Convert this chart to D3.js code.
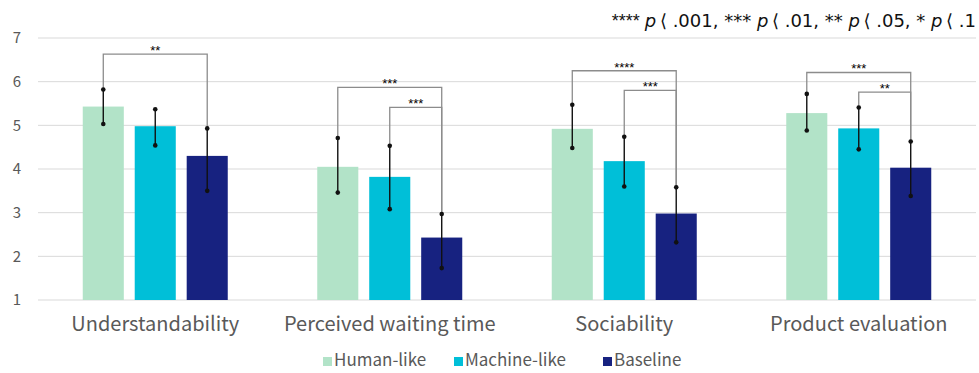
<!DOCTYPE html>
<html><head><meta charset="utf-8">
<script src="https://cdn.jsdelivr.net/npm/d3@7"></script>
<style>
body{margin:0;background:#fff;}
svg{display:block;font-family:"Noto Sans CJK JP","Noto Sans",sans-serif;}
</style></head>
<body><svg id="c" width="979" height="373"></svg>
<script>
const categories = ["Understandability","Perceived waiting time","Sociability","Product evaluation"];
const seriesNames = ["Human-like","Machine-like","Baseline"];
const humanLike   = [5.43, 4.05, 4.92, 5.28];
const machineLike = [4.98, 3.82, 4.18, 4.93];
const baseline    = [4.30, 2.43, 2.98, 4.03];
const humanHigh   = [5.82, 4.71, 5.47, 5.72];
const humanLow    = [5.03, 3.46, 4.48, 4.88];
const machineHigh = [5.37, 4.53, 4.74, 5.41];
const machineLow  = [4.54, 3.08, 3.60, 4.45];
const baselineHigh= [4.93, 2.97, 3.58, 4.63];
const baselineLow = [3.50, 1.73, 2.32, 3.38];
const yTicks = [1,2,3,4,5,6,7];
// significance brackets: category index, from series, to series, bracket level (value units), label
const bracketCat   = [0, 1, 1, 2, 2, 3, 3];
const bracketFrom  = [0, 0, 1, 0, 1, 0, 1];
const bracketTo    = [2, 2, 2, 2, 2, 2, 2];
const bracketLevel = [6.63, 5.87, 5.41, 6.25, 5.80, 6.21, 5.76];
const bracketLabel = ["**","***","***","****","***","***","**"];
const noteText = ["**** ", "p", "\u2009\u27E8 .001, *** ", "p", "\u2009\u27E8 .01, ** ", "p", "\u2009\u27E8 .05, * ", "p", "\u2009\u27E8 .1"];

const colors = ["#b2e3c8","#00bfd8","#172280"];
const values = [humanLike, machineLike, baseline];
const highs = [humanHigh, machineHigh, baselineHigh];
const lows = [humanLow, machineLow, baselineLow];

const svg = d3.select("#c");
const x0 = d3.scaleBand().domain(categories).range([38, 976]).padding(0);
const bw = x0.bandwidth();
const x1 = d3.scaleBand().domain(seriesNames).range([(bw-145)/2, (bw+145)/2]).paddingInner(0.21).paddingOuter(0);
const y = d3.scaleLinear().domain([1,7]).range([300,38]);

// grid
svg.append("g").selectAll("line").data(yTicks).join("line")
  .attr("x1",38).attr("x2",976).attr("y1",d=>y(d)).attr("y2",d=>y(d))
  .attr("stroke","#d9d9d9").attr("stroke-width",1);

// y axis
const yAxis = d3.axisLeft(y).tickValues(yTicks).tickFormat(d3.format("d")).tickSize(0).tickPadding(0);
const ya = svg.append("g").attr("transform","translate(21,0)").call(yAxis);
ya.select(".domain").remove();
ya.selectAll("text").attr("font-size",15).attr("fill","#595959").attr("font-family","'Noto Sans CJK JP',sans-serif");

// bars
const rows = [];
categories.forEach((c,i)=>seriesNames.forEach((s,j)=>rows.push({c,i,s,j,v:values[j][i],hi:highs[j][i],lo:lows[j][i]})));
const cx = d => x0(d.c) + x1(d.s) + x1.bandwidth()/2;
svg.append("g").selectAll("rect").data(rows).join("rect")
  .attr("x",d=>x0(d.c)+x1(d.s)).attr("width",x1.bandwidth())
  .attr("y",d=>y(d.v)).attr("height",d=>y(1)-y(d.v))
  .attr("fill",d=>colors[d.j]);

// brackets
const br = bracketCat.map((c,k)=>({c:categories[c],i:c,a:bracketFrom[k],b:bracketTo[k],lvl:bracketLevel[k],lab:bracketLabel[k]}));
const bx = (d,j) => x0(d.c) + x1(seriesNames[j]) + x1.bandwidth()/2;
const bg = svg.append("g");
br.forEach(d=>{
  const xa = bx(d,d.a), xb = bx(d,d.b), yl = y(d.lvl);
  const ya1 = y(highs[d.a][d.i]), yb1 = y(highs[d.b][d.i]);
  bg.append("path").attr("d",`M${xa},${ya1}V${yl}H${xb}V${yb1}`)
    .attr("fill","none").attr("stroke","#8c8c8c").attr("stroke-width",1.3);
  bg.append("text").attr("x",(xa+xb)/2).attr("y",yl+1).attr("text-anchor","middle")
    .attr("font-size",13).attr("font-family","'Liberation Sans',Arial,sans-serif").attr("fill","#000").text(d.lab);
});

// error bars
const eg = svg.append("g");
eg.selectAll("line").data(rows).join("line")
  .attr("x1",cx).attr("x2",cx).attr("y1",d=>y(d.hi)).attr("y2",d=>y(d.lo))
  .attr("stroke","#111").attr("stroke-width",1.4);
eg.selectAll("circle.h").data(rows).join("circle").attr("class","h")
  .attr("cx",cx).attr("cy",d=>y(d.hi)).attr("r",2.3).attr("fill","#111");
eg.selectAll("circle.l").data(rows).join("circle").attr("class","l")
  .attr("cx",cx).attr("cy",d=>y(d.lo)).attr("r",2.3).attr("fill","#111");

// category labels
svg.append("g").selectAll("text").data(categories).join("text")
  .attr("x",d=>x0(d)+bw/2).attr("y",331).attr("text-anchor","middle")
  .attr("font-size",20).attr("fill","#595959").text(d=>d);

// legend
const lg = svg.append("g");
const lx = [323, 454, 603];
seriesNames.forEach((s,j)=>{
  lg.append("rect").attr("x",lx[j]).attr("y",357).attr("width",9).attr("height",9).attr("fill",colors[j]);
  lg.append("text").attr("x",lx[j]+11).attr("y",366).attr("font-size",17).attr("fill","#595959").text(s);
});

// note
const nt = svg.append("text").attr("x",976).attr("y",27).attr("text-anchor","end")
  .attr("font-size",18).attr("fill","#111").attr("font-family","'Liberation Sans',Arial,sans-serif");
noteText.forEach(t=>{
  const ts = nt.append("tspan").text(t);
  if (t==="p") ts.attr("font-style","italic").attr("font-family","'DejaVu Sans',sans-serif");
  else if (t.indexOf("\u27E8")>=0) ts.attr("font-family","'DejaVu Sans','Liberation Sans',sans-serif");
});
</script></body></html>
